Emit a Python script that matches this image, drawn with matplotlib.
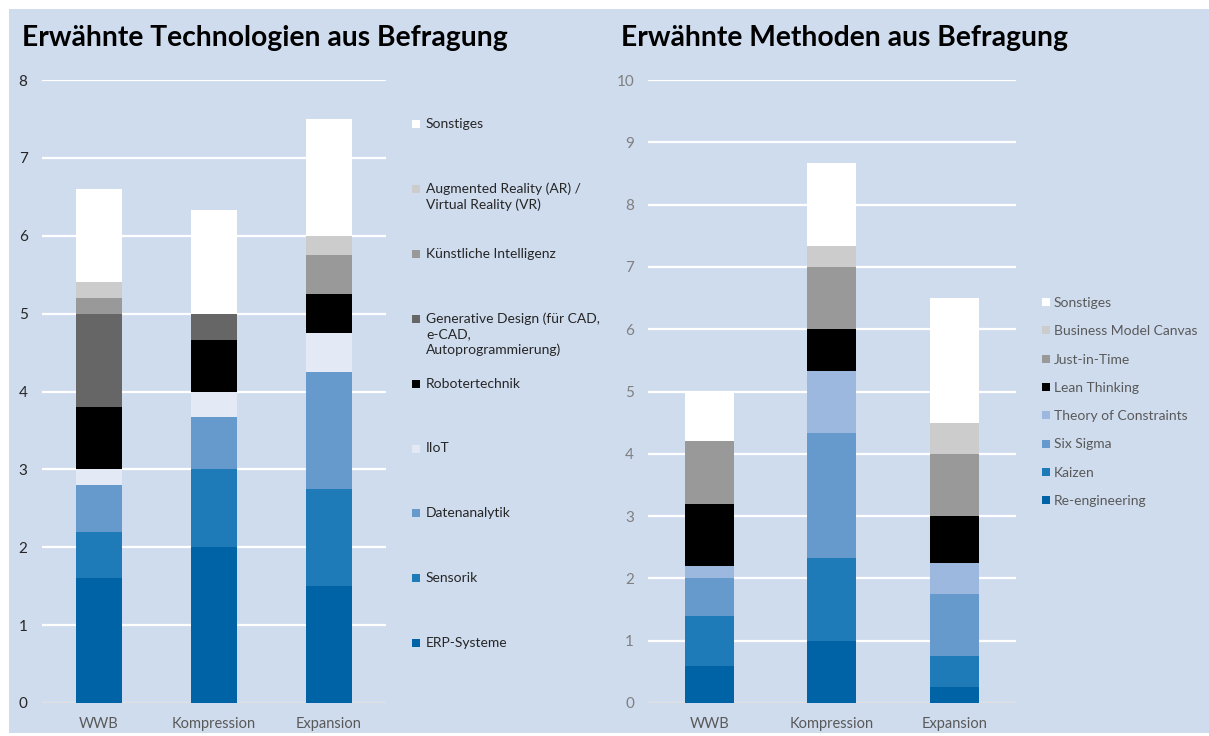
import numpy as np
import matplotlib
matplotlib.use("Agg")
import matplotlib.pyplot as plt
from matplotlib.patches import Rectangle

plt.rcParams['font.family'] = ['Lato', 'DejaVu Sans']

# ------------------------------------------------------------
# Daten
# ------------------------------------------------------------
gruppen = ["WWB", "Kompression", "Expansion"]

tech_labels = ["ERP-Systeme", "Sensorik", "Datenanalytik", "IIoT", "Robotertechnik",
               "Generative Design (für CAD,\ne-CAD,\nAutoprogrammierung)",
               "Künstliche Intelligenz", "Augmented Reality (AR) /\nVirtual Reality (VR)",
               "Sonstiges"]
tech_werte = [
    [1.6, 2.0, 1.5],      # ERP-Systeme
    [0.6, 1.0, 1.25],     # Sensorik
    [0.6, 0.667, 1.5],    # Datenanalytik
    [0.2, 0.333, 0.5],    # IIoT
    [0.8, 0.667, 0.5],    # Robotertechnik
    [1.2, 0.333, 0.0],    # Generative Design
    [0.2, 0.0, 0.5],      # KI
    [0.2, 0.0, 0.25],     # AR / VR
    [1.2, 1.333, 1.5],    # Sonstiges
]

meth_labels = ["Re-engineering", "Kaizen", "Six Sigma", "Theory of Constraints",
               "Lean Thinking", "Just-in-Time", "Business Model Canvas", "Sonstiges"]
meth_werte = [
    [0.6, 1.0, 0.25],     # Re-engineering
    [0.8, 1.333, 0.5],    # Kaizen
    [0.6, 2.0, 1.0],      # Six Sigma
    [0.2, 1.0, 0.5],      # Theory of Constraints
    [1.0, 0.667, 0.75],   # Lean Thinking
    [1.0, 1.0, 1.0],      # Just-in-Time
    [0.0, 0.333, 0.5],    # Business Model Canvas
    [0.8, 1.333, 2.0],    # Sonstiges
]

tech_farben = ["#0063a6", "#1f7bb8", "#6699cc", "#e3eaf5", "#000000",
               "#666666", "#999999", "#cccccc", "#ffffff"]
meth_farben = ["#0063a6", "#1f7bb8", "#6699cc", "#9db8de", "#000000",
               "#999999", "#cccccc", "#ffffff"]

BG = "#cfdcee"
W, H = 1209, 736


def fx(px):
    return px / W


def fy(py):
    return 1 - py / H


fig = plt.figure(figsize=(W / 100, H / 100), dpi=100)
fig.patch.set_facecolor("white")
fig.patches.append(Rectangle((fx(9), fy(733)), 1 - fx(9), fy(9) - fy(733),
                             transform=fig.transFigure, facecolor=BG,
                             edgecolor="none", zorder=-10))


def stacked(ax, werte, farben, ymax, tick_col):
    x = np.arange(len(gruppen))
    bottom = np.zeros(len(gruppen))
    for vals, col in zip(werte, farben):
        vals = np.array(vals)
        ax.bar(x, vals, 0.4, bottom=bottom, color=col, linewidth=0, zorder=3)
        bottom += vals
    ax.set_xlim(-0.5, 2.5)
    ax.set_ylim(0, ymax)
    ax.set_yticks(range(ymax + 1))
    ax.set_facecolor("none")
    ax.grid(axis="y", color="white", linewidth=1.6, zorder=0)
    ax.set_axisbelow(True)
    ax.axhline(0, color="#d9d9d9", linewidth=1.2, zorder=2)
    for s in ax.spines.values():
        s.set_visible(False)
    ax.set_xticks(x)
    ax.set_xticklabels(gruppen)
    ax.tick_params(axis="both", length=0)
    ax.tick_params(axis="x", colors="#595959", labelsize=10.5, pad=10)
    ax.tick_params(axis="y", colors=tick_col, labelsize=11, pad=10)


# ---------------------------- Technologien ----------------------------
ax1 = fig.add_axes([fx(41.5), fy(703), fx(345), (703 - 80) / H])
stacked(ax1, tech_werte, tech_farben, 8, "#262626")
fig.text(fx(22), fy(38), "Erwähnte Technologien aus Befragung", fontsize=20.3,
         fontweight="bold", va="center", ha="left", color="black")

for i, (lab, col) in enumerate(zip(tech_labels[::-1], tech_farben[::-1])):
    yy = 124 + i * 64.9
    fig.patches.append(Rectangle((fx(412), fy(yy + 4)), fx(8), 8 / H,
                                 transform=fig.transFigure, facecolor=col,
                                 edgecolor="none", zorder=5))
    fig.text(fx(426), fy(yy - 6), lab, fontsize=10, va="top", ha="left",
             color="#262626", linespacing=1.3)

# ----------------------------- Methoden ------------------------------
ax2 = fig.add_axes([fx(648), fy(703), fx(367.5), (703 - 80) / H])
stacked(ax2, meth_werte, meth_farben, 10, "#7f7f7f")
fig.text(fx(621), fy(38), "Erwähnte Methoden aus Befragung", fontsize=20.3,
         fontweight="bold", va="center", ha="left", color="black")

for i, (lab, col) in enumerate(zip(meth_labels[::-1], meth_farben[::-1])):
    yy = 302 + i * 28.3
    fig.patches.append(Rectangle((fx(1042), fy(yy + 4)), fx(8), 8 / H,
                                 transform=fig.transFigure, facecolor=col,
                                 edgecolor="none", zorder=5))
    fig.text(fx(1054), fy(yy + 1), lab, fontsize=10, va="center", ha="left",
             color="#595959")

fig.savefig("out.png", dpi=100)
